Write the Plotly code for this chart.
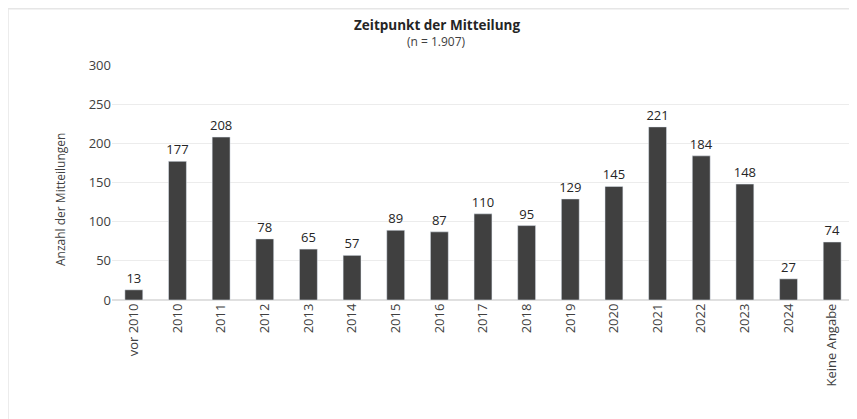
import plotly.graph_objects as go

categories = ["vor 2010", "2010", "2011", "2012", "2013", "2014", "2015", "2016", "2017",
              "2018", "2019", "2020", "2021", "2022", "2023", "2024", "Keine Angabe"]
values = [13, 177, 208, 78, 65, 57, 89, 87, 110, 95, 129, 145, 221, 184, 148, 27, 74]
y_ticks = [0, 50, 100, 150, 200, 250, 300]

FONT = "Open Sans, Noto Sans, sans-serif"

fig = go.Figure(go.Bar(
    x=categories, y=values,
    marker=dict(color="#404040"),
    text=[str(v) for v in values], textposition="outside",
    textfont=dict(size=13, color="#252525", family=FONT),
    constraintext="none",
    cliponaxis=False,
))

W, H = 857, 419
ml, mr, mt, mb = 104, 11, 57, 127
pw, ph = W - ml - mr, H - mt - mb

def px_to_paper_x(px):
    return (px - ml) / pw

def px_to_paper_y(py):
    return (H - mb - py) / ph

fig.update_layout(
    width=W, height=H,
    margin=dict(l=ml, r=mr, t=mt, b=mb, autoexpand=False),
    paper_bgcolor="white", plot_bgcolor="white",
    bargap=0.59,
    showlegend=False,
    uniformtext=dict(minsize=13, mode="show"),
    font=dict(family=FONT, color="#404040", size=13),
    xaxis=dict(tickangle=-90, tickfont=dict(size=13, color="#404040"),
               showgrid=False, ticks="", showline=False, automargin=False),
    yaxis=dict(range=[0, 300], tickvals=y_ticks, showgrid=True, gridcolor="#ececec",
               zeroline=True, zerolinecolor="#e0e0e0", ticks="", ticklen=0, automargin=False,
               tickfont=dict(size=13, color="#404040")),
    annotations=[
        dict(text="<b>Zeitpunkt der Mitteilung</b>", x=px_to_paper_x(W / 2), xref="paper",
             y=px_to_paper_y(17), yref="paper", showarrow=False,
             font=dict(size=13.5, color="#252525", family=FONT), xanchor="center", yanchor="middle"),
        dict(text="(n = 1.907)", x=px_to_paper_x(W / 2), xref="paper",
             y=px_to_paper_y(34), yref="paper", showarrow=False,
             font=dict(size=12, color="#404040", family=FONT), xanchor="center", yanchor="middle"),
        dict(text="Anzahl der Mitteilungen", x=px_to_paper_x(52), xref="paper",
             y=px_to_paper_y(192), yref="paper", showarrow=False, textangle=-90,
             font=dict(size=12, color="#404040", family=FONT), xanchor="center", yanchor="middle"),
    ],
    shapes=[
        dict(type="line", xref="paper", yref="paper",
             x0=px_to_paper_x(0), x1=px_to_paper_x(857), y0=px_to_paper_y(0.75), y1=px_to_paper_y(0.75),
             line=dict(color="#e6e6e6", width=1.5)),
        dict(type="line", xref="paper", yref="paper",
             x0=px_to_paper_x(0), x1=px_to_paper_x(0), y0=px_to_paper_y(0), y1=px_to_paper_y(419),
             line=dict(color="#e6e6e6", width=1.5)),
    ],
)

fig.write_html("out.html")
